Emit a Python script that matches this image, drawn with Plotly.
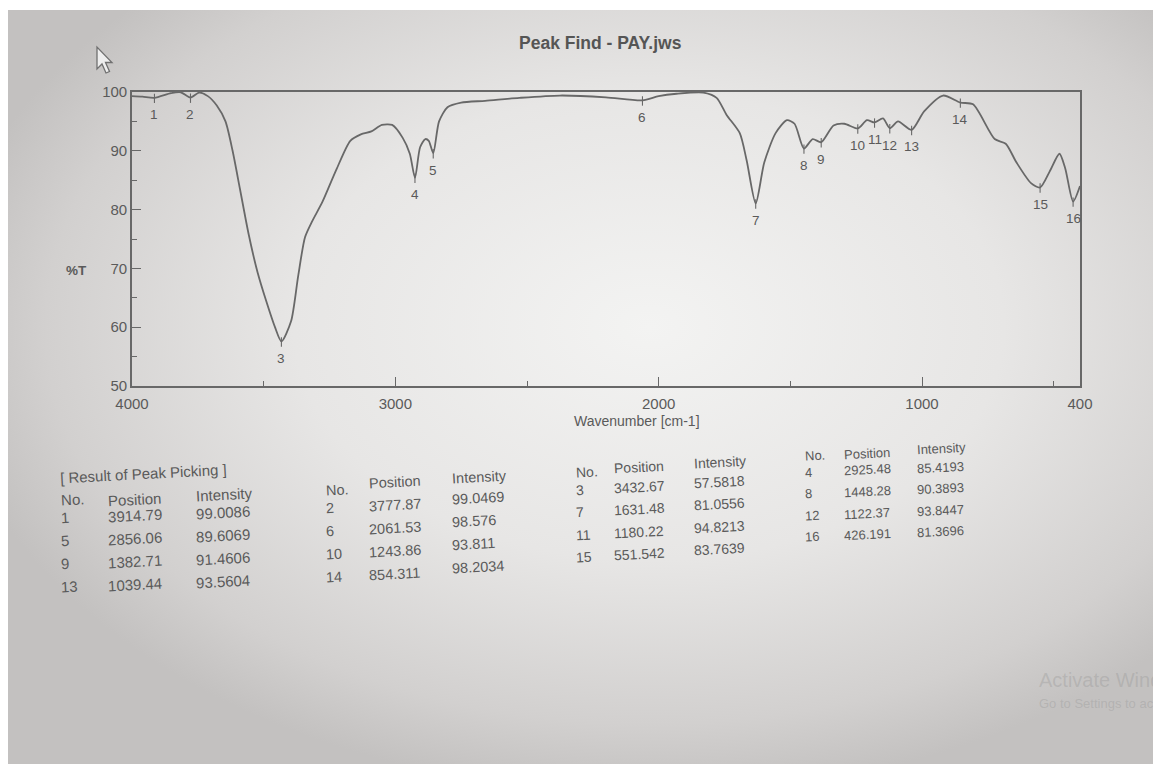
import base64
import plotly.graph_objects as go

# ---- Spectrum (wavenumber in cm-1, transmittance in %T) between the picked peaks ----
curve_wn = [4000, 3960, 3852, 3815, 3745, 3712, 3678, 3645, 3618, 3590, 3557, 3523,
            3490, 3457, 3396, 3369, 3343, 3316, 3277, 3224, 3171, 3131, 3091, 3051,
            3012, 2972, 2945, 2906, 2886, 2873, 2834, 2802, 2750, 2659, 2529, 2375,
            2200, 2000, 1932, 1831, 1780, 1742, 1692, 1666, 1599, 1556, 1513, 1484,
            1415, 1336, 1295, 1209, 1148, 1091, 992, 920, 806, 724, 682, 641, 586,
            515, 478, 456, 400]
curve_t = [99.3, 99.2, 99.8, 99.95, 99.9, 99.3, 97.7, 95.0, 90.0, 83.5, 75.8, 69.3,
           64.4, 60.0, 61.0, 68.7, 75.3, 78.0, 81.3, 86.8, 91.7, 92.8, 93.3, 94.4,
           94.4, 92.2, 89.5, 90.6, 92.0, 91.7, 95.0, 97.4, 98.2, 98.5, 99.0, 99.4,
           99.1, 99.3, 99.7, 99.9, 99.0, 96.1, 93.0, 88.4, 88.0, 93.0, 95.2, 94.6,
           92.0, 94.3, 94.6, 95.2, 95.5, 95.0, 96.7, 99.4, 97.9, 92.0, 91.2, 88.0, 84.5,
           86.5, 89.5, 87.0, 84.0]

# ---- Result of peak picking ----
peak_no = list(range(1, 17))
peak_pos = [3914.79, 3777.87, 3432.67, 2925.48, 2856.06, 2061.53, 1631.48, 1448.28,
            1382.71, 1243.86, 1180.22, 1122.37, 1039.44, 854.311, 551.542, 426.191]
peak_int = [99.0086, 99.0469, 57.5818, 85.4193, 89.6069, 98.576, 81.0556, 90.3893,
            91.4606, 93.811, 94.8213, 93.8447, 93.5604, 98.2034, 83.7639, 81.3696]

x_ticks = [4000, 3000, 2000, 1000, 400]
x_minor = [3500, 2500, 1500, 500]
y_ticks = [50, 60, 70, 80, 90, 100]
y_minor = [55, 65, 75, 85, 95]

LINE = "#686868"
TXT = "#5a5a5a"
FONT = "Liberation Sans, Arial, sans-serif"

# merge the picked peaks into the trace so the curve passes through them
pts = sorted(list(zip(curve_wn, curve_t)) + list(zip(peak_pos, peak_int)),
             key=lambda p: -p[0])
spec_x = [p[0] for p in pts]
spec_y = [p[1] for p in pts]

# page geometry (pixels)
FW, FH = 1153, 764
L, R, T, B = 132, 1080, 92, 386
PW, PH = R - L, B - T


def px(x):
    return (x - L) / PW


def py(y):
    return (B - y) / PH


def page_text(x, y, text, size, color=TXT, xanchor="center", angle=0):
    return dict(x=px(x), y=py(y), xref="paper", yref="paper", text=text,
                xanchor=xanchor, yanchor="middle", textangle=angle,
                showarrow=False, font=dict(size=size, color=color, family=FONT))


fig = go.Figure()

fig.add_trace(go.Scatter(
    x=spec_x, y=spec_y, mode="lines",
    line=dict(color=LINE, width=1.8, shape="spline", smoothing=0.7),
    hoverinfo="skip", showlegend=False))

# short vertical markers on each picked peak
mx, my = [], []
for p, v in zip(peak_pos, peak_int):
    mx += [p, p, None]
    my += [v + 0.7, v - 0.9, None]
fig.add_trace(go.Scatter(x=mx, y=my, mode="lines",
                         line=dict(color=LINE, width=1.1),
                         hoverinfo="skip", showlegend=False))

annotations = []
for n, p, v in zip(peak_no, peak_pos, peak_int):
    annotations.append(dict(x=p, y=v, xref="x", yref="y", text=str(n),
                            xanchor="center", yanchor="middle",
                            showarrow=False, yshift=-17,
                            font=dict(size=13.5, color=TXT, family=FONT)))

# title, axis captions
annotations.append(page_text(600, 43, "<b>Peak Find - PAY.jws</b>", 17.5, "#555555"))
annotations.append(page_text(76, 270, "<b>%T</b>", 13.5))
annotations.append(page_text(637, 421, "Wavenumber [cm-1]", 14))

# ---- peak table, four column groups ----
annotations.append(page_text(58, 474, "[ Result of Peak Picking ]", 15,
                             xanchor="left", angle=-3))

groups = [
    # x of (No, Position, Intensity), header y, first-row y, row step, font size
    dict(xs=(58, 105, 193), hy=(499, 499, 494), ry=(517, 515, 512), step=23.3, fs=15),
    dict(xs=(323, 367, 450), hy=(490, 482, 477), ry=(508, 505, 498), step=23.0, fs=14.5),
    dict(xs=(573, 612, 692), hy=(472, 467, 462), ry=(490, 487, 482), step=22.3, fs=14),
    dict(xs=(803, 842, 915), hy=(455, 453, 448), ry=(472, 470, 467), step=21.5, fs=13),
]
headers = ["No.", "Position", "Intensity"]

for g, spec in enumerate(groups):
    rows = [(n, p, v) for n, p, v in zip(peak_no, peak_pos, peak_int) if (n - 1) % 4 == g]
    for c in range(3):
        annotations.append(page_text(spec["xs"][c], spec["hy"][c], headers[c],
                                     spec["fs"], xanchor="left", angle=-3))
    for r, (n, p, v) in enumerate(rows):
        cells = [str(n), f"{p:.6g}", f"{v:.6g}"]
        for c in range(3):
            annotations.append(page_text(spec["xs"][c], spec["ry"][c] + r * spec["step"],
                                         cells[c], spec["fs"], xanchor="left", angle=-3))

# faint OS watermark in the lower right corner
annotations.append(page_text(1037, 680, "Activate Windows", 20,
                             "rgba(140,140,140,0.30)", xanchor="left"))
annotations.append(page_text(1037, 703, "Go to Settings to activate Windows.", 13,
                             "rgba(140,140,140,0.30)", xanchor="left"))

# screen background: uneven lighting and the mouse pointer
svg = f"""<svg xmlns="http://www.w3.org/2000/svg" width="{FW}" height="{FH}" viewBox="0 0 {FW} {FH}">
<defs><radialGradient id="g" cx="0.56" cy="0.42" r="0.62">
<stop offset="0" stop-color="#f3f3f2"/><stop offset="0.5" stop-color="#e7e6e5"/>
<stop offset="0.85" stop-color="#d2d0cf"/><stop offset="1" stop-color="#c3c1c0"/>
</radialGradient></defs>
<rect width="{FW}" height="{FH}" fill="#ffffff"/>
<rect x="8" y="10" width="{FW - 8}" height="{FH - 10}" fill="url(#g)"/>
<path d="M97 47 L97 69 L102 64 L106 73 L109.5 71.5 L105.5 62.5 L112 62.5 Z"
 fill="#eeeeee" stroke="#707070" stroke-width="1.3"/>
</svg>"""
bg_src = "data:image/svg+xml;base64," + base64.b64encode(svg.encode()).decode()

fig.update_layout(
    width=FW, height=FH,
    margin=dict(l=L, r=FW - R, t=T, b=FH - B),
    paper_bgcolor="#ffffff", plot_bgcolor="rgba(0,0,0,0)",
    showlegend=False,
    annotations=annotations,
    images=[dict(source=bg_src, xref="paper", yref="paper",
                 x=-L / PW, y=1 + T / PH, sizex=FW / PW, sizey=FH / PH,
                 xanchor="left", yanchor="top", sizing="stretch", layer="below")],
    xaxis=dict(range=[4000, 400], tickmode="array", tickvals=x_ticks,
               ticktext=[str(v) for v in x_ticks],
               ticks="inside", ticklen=9, tickwidth=1.2, tickcolor=LINE,
               showline=True, linecolor=LINE, linewidth=1.6, mirror=True,
               showgrid=False, zeroline=False, ticklabelstandoff=3,
               tickfont=dict(size=15, color=TXT, family=FONT),
               minor=dict(tickmode="array", tickvals=x_minor, ticks="inside",
                          ticklen=5, tickwidth=1.1, tickcolor=LINE, showgrid=False)),
    yaxis=dict(range=[50, 100], tickmode="array", tickvals=y_ticks,
               ticks="inside", ticklen=9, tickwidth=1.2, tickcolor=LINE,
               showline=True, linecolor=LINE, linewidth=1.6, mirror=True,
               showgrid=False, zeroline=False,
               tickfont=dict(size=15, color=TXT, family=FONT),
               minor=dict(tickmode="array", tickvals=y_minor, ticks="inside",
                          ticklen=5, tickwidth=1.1, tickcolor=LINE, showgrid=False)),
)

fig.write_html("out.html")
